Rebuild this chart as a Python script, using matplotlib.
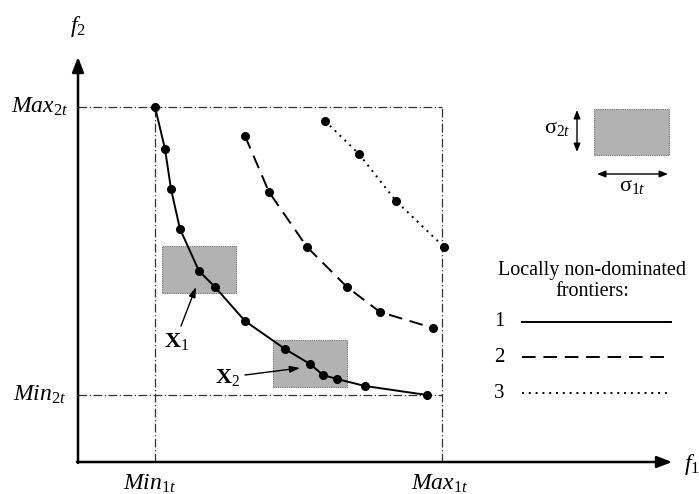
import matplotlib
matplotlib.use("Agg")
import matplotlib.pyplot as plt
from matplotlib.patches import Rectangle

plt.rcParams['mathtext.fontset'] = 'custom'
plt.rcParams['mathtext.rm'] = 'Liberation Serif'
plt.rcParams['mathtext.it'] = 'Liberation Serif:italic'
plt.rcParams['mathtext.bf'] = 'Liberation Serif:bold'
plt.rcParams['font.family'] = ['Liberation Serif', 'DejaVu Serif']

# ---- data (schematic units) ----
front1_f1 = [155, 165, 171, 180, 199, 215, 245, 285, 310, 323, 337, 365, 427]
front1_f2 = [387, 345, 305, 265, 223, 207, 173, 145, 130, 119, 115, 108, 99]
front2_f1 = [245, 269, 307, 347, 380, 433]
front2_f2 = [358, 302, 247, 207, 182, 166]
front3_f1 = [325, 359, 396, 444]
front3_f2 = [373, 340, 293, 247]

min1t, max1t = 155, 442
min2t, max2t = 99, 387
origin = (78, 32)
axis_end = (672, 437)

boxes = [(162, 201, 74, 47), (273, 107, 74, 47)]   # x, y, width, height
legend_box = (594, 339, 75, 46)

bound_labels = [r'$Min_{1t}$', r'$Max_{1t}$', r'$Min_{2t}$', r'$Max_{2t}$']
legend_title = "Locally non-dominated\nfrontiers:"
legend_ids = ["1", "2", "3"]

fig = plt.figure(figsize=(6.99, 4.94), dpi=100)
ax = fig.add_axes([0, 0, 1, 1])
ax.set_xlim(0, 699)
ax.set_ylim(0, 494)
ax.axis('off')

# axes arrows
ax.annotate('', xy=(axis_end[0], origin[1]), xytext=(origin[0] - 1, origin[1]),
            arrowprops=dict(arrowstyle='-|>,head_length=0.9,head_width=0.35', lw=1.8, color='black',
                            shrinkA=0, shrinkB=0))
ax.annotate('', xy=(origin[0], axis_end[1]), xytext=(origin[0], origin[1] - 1),
            arrowprops=dict(arrowstyle='-|>,head_length=0.9,head_width=0.35', lw=1.8, color='black',
                            shrinkA=0, shrinkB=0))
ax.text(axis_end[0] + 12, origin[1] - 2, r'$f_1$', fontsize=17, ha='left', va='center')
ax.text(origin[0], 467, r'$f_2$', fontsize=17, ha='center', va='center')

# bounds (dash-dot)
dd = dict(color='#333333', lw=0.9, linestyle=(0, (7, 2, 1, 2)))
ax.plot([origin[0], max1t], [max2t, max2t], **dd)
ax.plot([origin[0], max1t], [min2t, min2t], **dd)
ax.plot([min1t, min1t], [origin[1], max2t], **dd)
ax.plot([max1t, max1t], [origin[1], max2t], **dd)

ax.text(min1t - 5, 10, bound_labels[0], fontsize=17, ha='center', va='center')
ax.text(max1t - 2, 10, bound_labels[1], fontsize=17, ha='center', va='center')
ax.text(40, min2t, bound_labels[2], fontsize=17, ha='center', va='center')
ax.text(40, max2t, bound_labels[3], fontsize=17, ha='center', va='center')

# boxes
for (bx, by, bw, bh) in boxes:
    ax.add_patch(Rectangle((bx, by), bw, bh, facecolor='#b2b2b2', edgecolor='#666666',
                           lw=0.8, linestyle=(0, (1, 1)), zorder=1))
bx, by, bw, bh = legend_box
ax.add_patch(Rectangle((bx, by), bw, bh, facecolor='#b2b2b2', edgecolor='#666666',
                       lw=0.8, linestyle=(0, (1, 1)), zorder=1))

# fronts
ax.plot(front1_f1, front1_f2, color='black', lw=1.4, marker='o', ms=5.5, zorder=3)
ax.plot(front2_f1, front2_f2, color='black', lw=1.4, linestyle=(0, (7, 4)), marker='o', ms=5.5, zorder=3)
ax.plot(front3_f1, front3_f2, color='black', lw=1.4, linestyle=(0, (1, 2.5)), marker='o', ms=5.5, zorder=3)

# X1, X2 labels
ax.text(177, 152, r'$\mathbf{X}_{\mathrm{1}}$', fontsize=16, ha='center', va='center')
ax.annotate('', xy=(196, 207), xytext=(181, 168),
            arrowprops=dict(arrowstyle='-|>,head_length=0.6,head_width=0.2', lw=1.0, color='black',
                            shrinkA=0, shrinkB=0))
ax.text(228, 117, r'$\mathbf{X}_{\mathrm{2}}$', fontsize=16, ha='center', va='center')
ax.annotate('', xy=(300, 126), xytext=(245, 119),
            arrowprops=dict(arrowstyle='-|>,head_length=0.6,head_width=0.2', lw=1.0, color='black',
                            shrinkA=0, shrinkB=0))

# sigma legend
ax.annotate('', xy=(577, 384), xytext=(577, 342),
            arrowprops=dict(arrowstyle='<|-|>,head_length=0.5,head_width=0.2', lw=1.0, color='black',
                            shrinkA=0, shrinkB=0))
ax.text(557, 366, r'σ$_{2t}$', fontsize=16, ha='center', va='center')
ax.annotate('', xy=(668, 320), xytext=(597, 320),
            arrowprops=dict(arrowstyle='<|-|>,head_length=0.5,head_width=0.2', lw=1.0, color='black',
                            shrinkA=0, shrinkB=0))
ax.text(632, 307, r'σ$_{1t}$', fontsize=16, ha='center', va='center')

# frontier legend
ax.text(592, 213, legend_title, fontsize=14.5, ha='center', va='center', linespacing=1.1)
legend_y = [172, 137, 101]
styles = ['-', (0, (7, 4)), (0, (1, 2.5))]
for lid, ly, st in zip(legend_ids, legend_y, styles):
    ax.text(499, ly, lid, fontsize=15, ha='center', va='center')
    ax.plot([522, 671], [ly, ly], color='black', lw=1.4, linestyle=st)

fig.savefig('out.png', dpi=100)
